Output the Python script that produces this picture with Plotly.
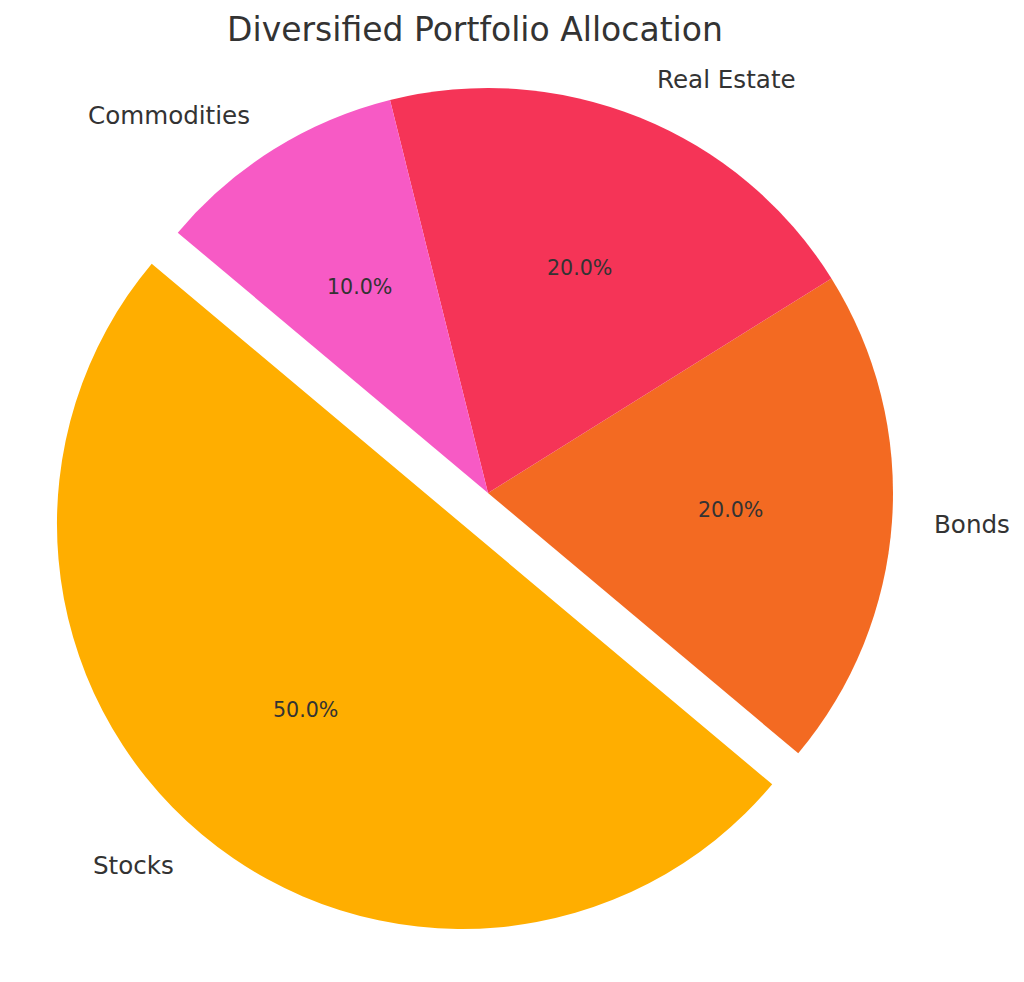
import math
import plotly.graph_objects as go

# ---- data ----
labels = ["Stocks", "Bonds", "Real Estate", "Commodities"]
values = [50, 20, 20, 10]
colors = ["#FFAE00", "#F36A22", "#F53457", "#F75AC5"]
pulls = [0.1, 0, 0, 0]
title_text = "Diversified Portfolio Allocation"

# ---- layout constants ----
W, H = 1024, 982
OFF = 8.0                    # browser body margin
CX, CY = 488.0 - OFF, 493.0 - OFF   # pie centre in figure pixels
R = 405.0                    # pie radius in pixels
START_ANGLE = 140.0          # degrees, counterclockwise from 3 o'clock
LABEL_DIST = 1.1
PCT_DIST = 0.6
TXT = "#333333"
FONT = "DejaVu Sans"

half = R * (1 + max(pulls))
domain_x = [(CX - half) / W, (CX + half) / W]
domain_y = [1 - (CY + half) / H, 1 - (CY - half) / H]

# plotly counterclockwise: first slice lies clockwise of `rotation`
total = sum(values)
first_end = START_ANGLE + 360.0 * values[0] / total
rotation = (90.0 - first_end) % 360

fig = go.Figure(go.Pie(
    labels=labels,
    values=values,
    marker=dict(colors=colors, line=dict(width=0)),
    pull=pulls,
    sort=False,
    direction="counterclockwise",
    rotation=rotation,
    textinfo="none",
    hoverinfo="label+percent",
    showlegend=False,
    domain=dict(x=domain_x, y=domain_y),
))

annotations = []
theta = START_ANGLE
for lab, v, p in zip(labels, values, pulls):
    span = 360.0 * v / total
    mid = math.radians(theta + span / 2)
    theta += span
    c, s = math.cos(mid), math.sin(mid)
    ox, oy = CX + p * R * c, CY - p * R * s
    lx, ly = ox + LABEL_DIST * R * c, oy - LABEL_DIST * R * s
    annotations.append(dict(
        x=lx / W, y=1 - ly / H, xref="paper", yref="paper",
        text=lab, showarrow=False,
        xanchor="left" if c > 0 else "right", yanchor="middle",
        font=dict(family=FONT, size=24.6, color=TXT),
    ))
    px_, py_ = ox + PCT_DIST * R * c, oy - PCT_DIST * R * s
    annotations.append(dict(
        x=px_ / W, y=1 - py_ / H, xref="paper", yref="paper",
        text=f"{100.0 * v / total:.1f}%", showarrow=False,
        xanchor="center", yanchor="middle",
        font=dict(family=FONT, size=20.6, color=TXT),
    ))

fig.update_layout(
    width=W, height=H,
    margin=dict(l=0, r=0, t=0, b=0),
    paper_bgcolor="white",
    plot_bgcolor="white",
    title=dict(text=title_text, x=(475 - OFF) / W, xanchor="center",
               y=1 - (29 - OFF) / H, yanchor="middle",
               font=dict(family=FONT, size=33, color=TXT)),
    annotations=annotations,
)

fig.write_html("out.html")
